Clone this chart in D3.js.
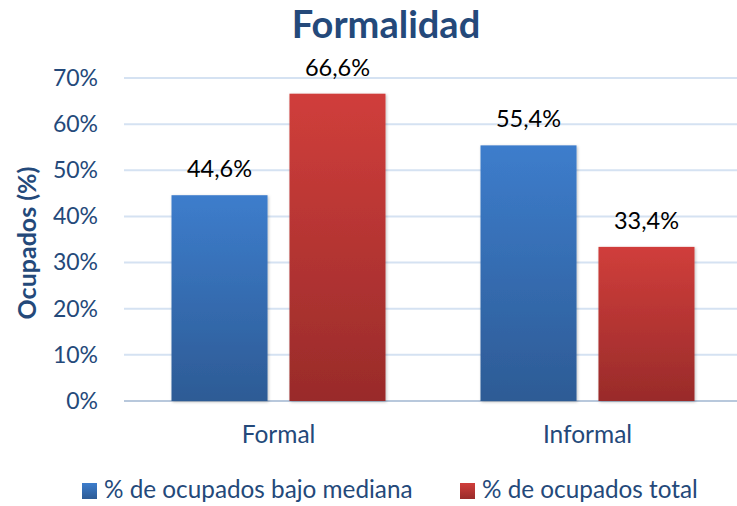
<!DOCTYPE html>
<html>
<head>
<meta charset="utf-8">
<script src="https://cdn.jsdelivr.net/npm/d3@7"></script>
<style>
  body { margin: 0; background: #fff; }
  text { font-family: Lato, "Open Sans", sans-serif; }
</style>
</head>
<body>
<svg id="chart" width="737" height="506"></svg>
<script>
// data
var categories = ["Formal", "Informal"];
var series = ["% de ocupados bajo mediana", "% de ocupados total"];
var bajoMediana = [44.6, 55.4];
var total = [66.6, 33.4];
var yTicks = [0, 10, 20, 30, 40, 50, 60, 70];

var blueTop = "#3d7dcc", blueBottom = "#2d5b95";
var redTop = "#d03e3b", redBottom = "#992b2a";
var textBlue = "#24497a";

var svg = d3.select("#chart");

var defs = svg.append("defs");
function gradient(id, top, bottom) {
  var g = defs.append("linearGradient").attr("id", id)
    .attr("x1", 0).attr("y1", 0).attr("x2", 0).attr("y2", 1);
  g.append("stop").attr("offset", "0%").attr("stop-color", top);
  g.append("stop").attr("offset", "100%").attr("stop-color", bottom);
}
gradient("gBlue", blueTop, blueBottom);
gradient("gRed", redTop, redBottom);
var f = defs.append("filter").attr("id", "shadow")
  .attr("x", "-10%").attr("y", "-5%").attr("width", "130%").attr("height", "115%");
f.append("feDropShadow").attr("dx", 1).attr("dy", 1).attr("stdDeviation", 1.5)
  .attr("flood-color", "#000").attr("flood-opacity", 0.25);

var fills = ["url(#gBlue)", "url(#gRed)"];

var plotLeft = 124, plotRight = 742, plotTop = 78, plotBottom = 401;

var x0 = d3.scaleBand().domain(categories).range([plotLeft, plotRight]).padding(0);
var x1 = d3.scaleBand().domain(series)
  .range([47.5, x0.bandwidth() - 47.5]).paddingInner(0.186).paddingOuter(0);
var y = d3.scaleLinear().domain([0, 70]).range([plotBottom, plotTop]);

// gridlines
svg.append("g").selectAll("line")
  .data(yTicks)
  .enter().append("line")
  .attr("x1", plotLeft).attr("x2", plotRight)
  .attr("y1", function(d) { return y(d); })
  .attr("y2", function(d) { return y(d); })
  .attr("stroke", function(d) { return d == 0 ? "#b8c8dc" : "#d5e2f2"; })
  .attr("stroke-width", 2);

// y axis labels
var yAxis = svg.append("g")
  .attr("transform", "translate(" + (plotLeft - 26) + ",0)")
  .call(d3.axisLeft(y).tickValues(yTicks).tickSize(0).tickFormat(function(d) { return d + "%"; }));
yAxis.select(".domain").remove();
yAxis.selectAll("text")
  .attr("x", 0)
  .style("font-size", "23px")
  .style("font-family", "Lato, sans-serif")
  .attr("fill", textBlue);

// x axis labels
var xAxis = svg.append("g")
  .attr("transform", "translate(0," + plotBottom + ")")
  .call(d3.axisBottom(x0).tickSize(0));
xAxis.select(".domain").remove();
xAxis.selectAll("text")
  .attr("y", 25)
  .style("font-size", "24.5px")
  .style("font-family", "Lato, sans-serif")
  .attr("fill", textBlue);

// bars
var rows = categories.map(function(c, i) {
  return { cat: c, values: [bajoMediana[i], total[i]] };
});

var groups = svg.append("g").selectAll("g")
  .data(rows)
  .enter().append("g")
  .attr("transform", function(d) { return "translate(" + x0(d.cat) + ",0)"; });

groups.selectAll("rect")
  .data(function(d) { return d.values.map(function(v, j) { return { s: series[j], v: v, j: j }; }); })
  .enter().append("rect")
  .attr("x", function(d) { return x1(d.s); })
  .attr("y", function(d) { return y(d.v); })
  .attr("width", x1.bandwidth())
  .attr("height", function(d) { return plotBottom - y(d.v); })
  .attr("fill", function(d) { return fills[d.j]; })
  .attr("filter", "url(#shadow)");

groups.selectAll("text.val")
  .data(function(d) { return d.values.map(function(v, j) { return { s: series[j], v: v }; }); })
  .enter().append("text")
  .attr("class", "val")
  .attr("x", function(d) { return x1(d.s) + x1.bandwidth() / 2; })
  .attr("y", function(d) { return y(d.v) - 18; })
  .attr("text-anchor", "middle")
  .style("font-size", "23.5px")
  .attr("fill", "#000")
  .text(function(d) { return d3.format(".1f")(d.v).replace(".", ",") + "%"; });

// title
svg.append("text")
  .attr("x", 386).attr("y", 37.5)
  .attr("text-anchor", "middle")
  .style("font-size", "38px")
  .style("font-weight", "bold")
  .attr("fill", textBlue)
  .text("Formalidad");

// y title
svg.append("text")
  .attr("transform", "translate(36,243) rotate(-90)")
  .attr("text-anchor", "middle")
  .style("font-size", "25px")
  .style("font-weight", "bold")
  .attr("fill", textBlue)
  .text("Ocupados (%)");

// legend
var legendX = [82, 460];
var legend = svg.append("g").selectAll("g")
  .data(series)
  .enter().append("g")
  .attr("transform", function(d, i) { return "translate(" + legendX[i] + ",483)"; });
legend.append("rect")
  .attr("width", 15).attr("height", 16)
  .attr("fill", function(d, i) { return fills[i]; });
legend.append("text")
  .attr("x", 22).attr("y", 15)
  .style("font-size", "24.3px")
  .attr("fill", textBlue)
  .text(function(d) { return d; });
</script>
</body>
</html>
